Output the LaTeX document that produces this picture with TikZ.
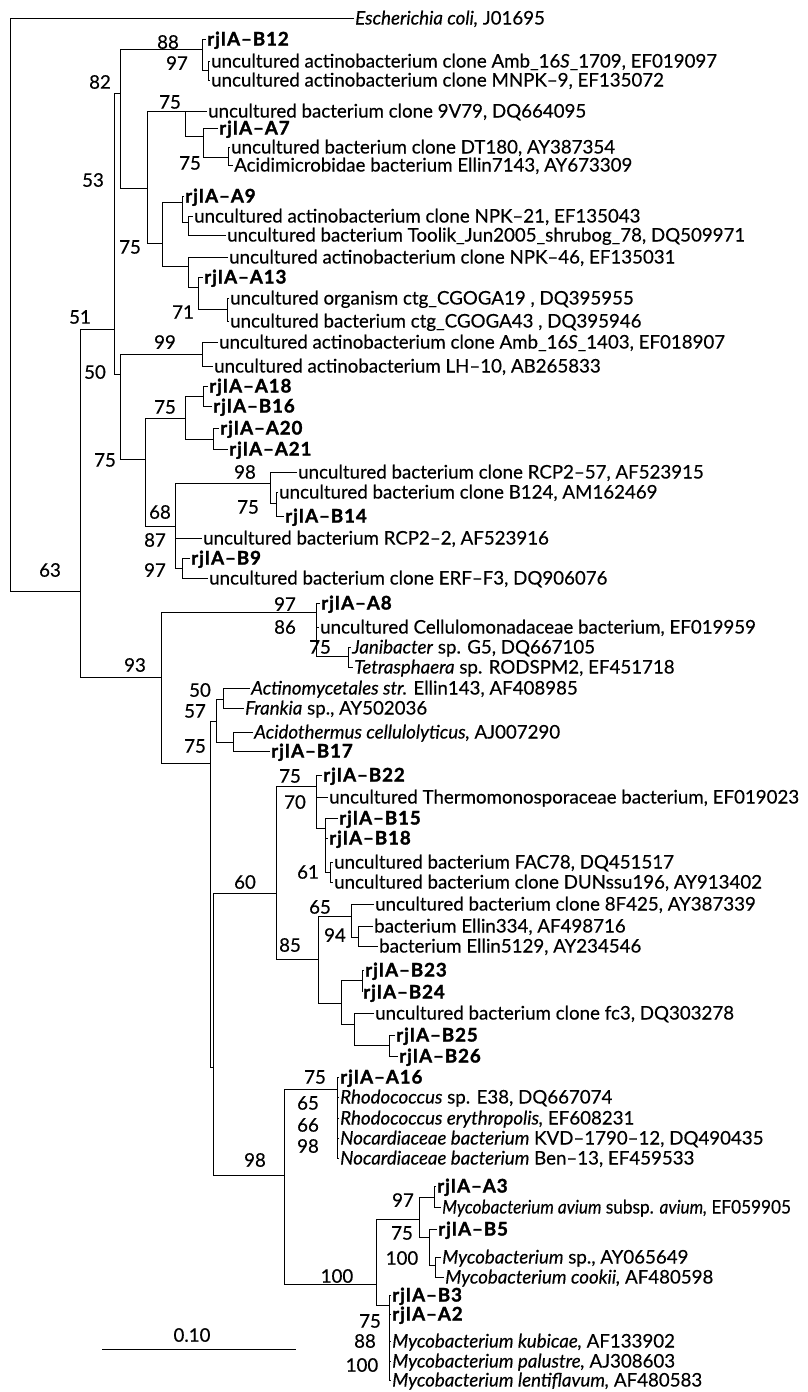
\documentclass[tikz,border=0pt]{standalone}
\usepackage{fontspec}
\setmainfont{Lato}[FakeBold=0.4]
\newfontfamily\rjfont{Lato}[FakeBold=1.6,LetterSpace=5]
\newcommand{\tsz}{\fontsize{18.7}{21}\selectfont}

\begin{document}
\begin{tikzpicture}[x=1pt,y=-1pt,
  br/.style={line width=0.9pt},
  lf/.style={anchor=west,inner sep=1pt,text height=13pt,text depth=0pt,font=\tsz},
  rj/.style={lf,font=\tsz\rjfont\bfseries},
  bs/.style={inner sep=0pt,font=\tsz}]
  \useasboundingbox (0,0) rectangle (808,1392);

  % outgroup
  \node[lf] (ecoli) at (354,18) {\textit{Escherichia coli,} J01695};

  % upper clade, leaves
  \node[rj] (b12) at (206,39) {rjIA\textendash B12};
  \node[lf] (amb1709) at (210,61) {uncultured actinobacterium clone Amb\_16\textit{S}\_1709, EF019097};
  \node[lf] (mnpk9) at (210,80) {uncultured actinobacterium clone MNPK\textendash 9, EF135072};
  \node[lf] (v79) at (207,111) {uncultured bacterium clone 9V79, DQ664095};
  \node[rj] (a7) at (218,128) {rjIA\textendash A7};
  \node[lf] (dt180) at (230,147) {uncultured bacterium clone DT180, AY387354};
  \node[lf] (e7143) at (233,165) {Acidimicrobidae bacterium Ellin7143, AY673309};
  \node[rj] (a9) at (184,196) {rjIA\textendash A9};
  \node[lf] (npk21) at (193,216) {uncultured actinobacterium clone NPK\textendash 21, EF135043};
  \node[lf] (toolik) at (226,235) {uncultured bacterium Toolik\_Jun2005\_shrubog\_78, DQ509971};
  \node[lf] (npk46) at (228,257) {uncultured actinobacterium clone NPK\textendash 46, EF135031};
  \node[rj] (a13) at (203,277) {rjIA\textendash A13};
  \node[lf] (cg19) at (229,298) {uncultured organism ctg\_CGOGA19 , DQ395955};
  \node[lf] (cg43) at (229,321) {uncultured bacterium ctg\_CGOGA43 , DQ395946};
  \node[lf] (amb1403) at (218,342) {uncultured actinobacterium clone Amb\_16\textit{S}\_1403, EF018907};
  \node[lf] (lh10) at (213,366) {uncultured actinobacterium LH\textendash 10, AB265833};
  \node[rj] (a18) at (208,386) {rjIA\textendash A18};
  \node[rj] (b16) at (212,406) {rjIA\textendash B16};
  \node[rj] (a20) at (219,428) {rjIA\textendash A20};
  \node[rj] (a21) at (228,449) {rjIA\textendash A21};
  \node[lf] (rcp57) at (297,472) {uncultured bacterium clone RCP2\textendash 57, AF523915};
  \node[lf] (b124) at (278,492) {uncultured bacterium clone B124, AM162469};
  \node[rj] (b14) at (284,516) {rjIA\textendash B14};
  \node[lf] (rcp2) at (202,538) {uncultured bacterium RCP2\textendash 2, AF523916};
  \node[rj] (b9) at (190,558) {rjIA\textendash B9};
  \node[lf] (erf) at (208,578) {uncultured bacterium clone ERF\textendash F3, DQ906076};

  % lower clade, leaves
  \node[rj] (a8) at (320,603) {rjIA\textendash A8};
  \node[lf] (cellu) at (319,627) {uncultured Cellulomonadaceae bacterium, EF019959};
  \node[lf] (jani) at (351,647) {\textit{Janibacter} sp. G5, DQ667105};
  \node[lf] (tetra) at (353,667) {\textit{Tetrasphaera} sp. RODSPM2, EF451718};
  \node[lf] (actino) at (250,688) {\textit{Actinomycetales str.} Ellin143, AF408985};
  \node[lf] (frankia) at (244,708) {\textit{Frankia} sp., AY502036};
  \node[lf] (acido) at (253,732) {\textit{Acidothermus cellulolyticus,} AJ007290};
  \node[rj] (b17) at (270,751) {rjIA\textendash B17};
  \node[rj] (b22) at (322,775) {rjIA\textendash B22};
  \node[lf] (thermo) at (328,797) {uncultured Thermomonosporaceae bacterium, EF019023};
  \node[rj] (b15) at (338,818) {rjIA\textendash B15};
  \node[rj] (b18) at (328,838) {rjIA\textendash B18};
  \node[lf] (fac78) at (333,862) {uncultured bacterium FAC78, DQ451517};
  \node[lf] (dun) at (333,882) {uncultured bacterium clone DUNssu196, AY913402};
  \node[lf] (f425) at (374,904) {uncultured bacterium clone 8F425, AY387339};
  \node[lf] (e334) at (373,926) {bacterium Ellin334, AF498716};
  \node[lf] (e5129) at (378,946) {bacterium Ellin5129, AY234546};
  \node[rj] (b23) at (364,970) {rjIA\textendash B23};
  \node[rj] (b24) at (362,992) {rjIA\textendash B24};
  \node[lf] (fc3) at (374,1013) {uncultured bacterium clone fc3, DQ303278};
  \node[rj] (b25) at (395,1035) {rjIA\textendash B25};
  \node[rj] (b26) at (398,1056) {rjIA\textendash B26};
  \node[rj] (a16) at (339,1077) {rjIA\textendash A16};
  \node[lf] (e38) at (339,1097) {\textit{Rhodococcus} sp. E38, DQ667074};
  \node[lf] (eryth) at (339,1118) {\textit{Rhodococcus erythropolis,} EF608231};
  \node[lf] (kvd) at (339,1138) {\textit{Nocardiaceae bacterium} KVD\textendash 1790\textendash 12, DQ490435};
  \node[lf] (ben13) at (339,1158) {\textit{Nocardiaceae bacterium} Ben\textendash 13, EF459533};
  \node[rj] (a3) at (436,1186) {rjIA\textendash A3};
  \node[lf] (avium) at (441,1207) {\scalebox{0.92}[1]{\textit{Mycobacterium avium} subsp. \textit{avium,} EF059905}};
  \node[rj] (b5) at (437,1229) {rjIA\textendash B5};
  \node[lf] (mycsp) at (441,1257) {\textit{Mycobacterium} sp., AY065649};
  \node[lf] (cookii) at (444,1277) {\textit{Mycobacterium cookii,} AF480598};
  \node[rj] (b3) at (391,1295) {rjIA\textendash B3};
  \node[rj] (a2) at (391,1314) {rjIA\textendash A2};
  \node[lf] (kubi) at (391,1341) {\textit{Mycobacterium kubicae,} AF133902};
  \node[lf] (palu) at (391,1361) {\textit{Mycobacterium palustre,} AJ308603};
  \node[lf] (lenti) at (391,1380) {\textit{Mycobacterium lentiflavum,} AF480583};

  % inner nodes
  \coordinate (r) at (10,591);
  \coordinate (n63) at (80,591);
  \coordinate (n51) at (114,329);
  \coordinate (n82) at (120,93);
  \coordinate (n88) at (202,49);
  \coordinate (n97a) at (208,70);
  \coordinate (n53) at (147,188);
  \coordinate (n75a) at (185,111);
  \coordinate (nA7) at (203,136);
  \coordinate (n75c) at (228,157);
  \coordinate (n75b) at (162,243);
  \coordinate (nA9) at (182,202);
  \coordinate (nNPK) at (188,222);
  \coordinate (nA13p) at (188,266);
  \coordinate (n71p) at (198,287);
  \coordinate (n71) at (227,309);
  \coordinate (n50) at (120,374);
  \coordinate (n99) at (202,354);
  \coordinate (n75d) at (145,459);
  \coordinate (n75e) at (185,418);
  \coordinate (nA18) at (203,396);
  \coordinate (nA20) at (213,439);
  \coordinate (n68) at (175,526);
  \coordinate (n98a) at (270,483);
  \coordinate (nB124) at (276,503);
  \coordinate (n97b) at (182,568);
  \coordinate (n93) at (161,677);
  \coordinate (n97c) at (316,612);
  \coordinate (n75g) at (348,656);
  \coordinate (n75f) at (210,763);
  \coordinate (n57) at (216,721);
  \coordinate (n50b) at (223,699);
  \coordinate (nAcido) at (233,742);
  \coordinate (n60p) at (213,1067);
  \coordinate (n60) at (276,893);
  \coordinate (n70) at (316,786);
  \coordinate (nB15) at (325,828);
  \coordinate (n61) at (330,872);
  \coordinate (n85) at (318,959);
  \coordinate (n65) at (351,916);
  \coordinate (n94) at (358,937);
  \coordinate (nB23p) at (341,1003);
  \coordinate (nB23) at (362,980);
  \coordinate (nfc3) at (354,1024);
  \coordinate (nB25) at (389,1045);
  \coordinate (n98b) at (284,1175);
  \coordinate (nA16) at (337,1089);
  \coordinate (n100) at (376,1284);
  \coordinate (n97d) at (419,1219);
  \coordinate (nA3) at (434,1197);
  \coordinate (nB5) at (429,1237);
  \coordinate (nsp) at (435,1265);
  \coordinate (nB3) at (389,1305);

  % branches, upper clade
  \draw[br] (ecoli.west) -- (r |- ecoli.west) -- (r) -- (n63);
  \draw[br] (n51) -- (n63 |- n51) -- (n63 |- n93) -- (n93);
  \draw[br] (n82) -- (n51 |- n82) -- (n51 |- n50) -- (n50);
  \draw[br] (n88) -- (n82 |- n88) -- (n82 |- n53) -- (n53);
  \draw[br] (b12.west) -- (n88 |- b12.west) -- (n88 |- n97a) -- (n97a);
  \draw[br] (amb1709.west) -- (n97a |- amb1709.west) -- (n97a |- mnpk9.west) -- (mnpk9.west);
  \draw[br] (n75a) -- (n53 |- n75a) -- (n53 |- n75b) -- (n75b);
  \draw[br] (v79.west) -- (n75a |- v79.west) -- (n75a |- nA7) -- (nA7);
  \draw[br] (a7.west) -- (nA7 |- a7.west) -- (nA7 |- n75c) -- (n75c);
  \draw[br] (dt180.west) -- (n75c |- dt180.west) -- (n75c |- e7143.west) -- (e7143.west);
  \draw[br] (nA9) -- (n75b |- nA9) -- (n75b |- nA13p) -- (nA13p);
  \draw[br] (a9.west) -- (nA9 |- a9.west) -- (nA9 |- nNPK) -- (nNPK);
  \draw[br] (npk21.west) -- (nNPK |- npk21.west) -- (nNPK |- toolik.west) -- (toolik.west);
  \draw[br] (npk46.west) -- (nA13p |- npk46.west) -- (nA13p |- n71p) -- (n71p);
  \draw[br] (a13.west) -- (n71p |- a13.west) -- (n71p |- n71) -- (n71);
  \draw[br] (cg19.west) -- (n71 |- cg19.west) -- (n71 |- cg43.west) -- (cg43.west);
  \draw[br] (n99) -- (n50 |- n99) -- (n50 |- n75d) -- (n75d);
  \draw[br] (amb1403.west) -- (n99 |- amb1403.west) -- (n99 |- lh10.west) -- (lh10.west);
  \draw[br] (n75e) -- (n75d |- n75e) -- (n75d |- n68) -- (n68);
  \draw[br] (nA18) -- (n75e |- nA18) -- (n75e |- nA20) -- (nA20);
  \draw[br] (a18.west) -- (nA18 |- a18.west) -- (nA18 |- b16.west) -- (b16.west);
  \draw[br] (a20.west) -- (nA20 |- a20.west) -- (nA20 |- a21.west) -- (a21.west);
  \draw[br] (n98a) -- (n68 |- n98a) -- (n68 |- n97b) -- (n97b) (n68 |- rcp2.west) -- (rcp2.west);
  \draw[br] (rcp57.west) -- (n98a |- rcp57.west) -- (n98a |- nB124) -- (nB124);
  \draw[br] (b124.west) -- (nB124 |- b124.west) -- (nB124 |- b14.west) -- (b14.west);
  \draw[br] (b9.west) -- (n97b |- b9.west) -- (n97b |- erf.west) -- (erf.west);

  % branches, lower clade
  \draw[br] (n97c) -- (n93 |- n97c) -- (n93 |- n75f) -- (n75f);
  \draw[br] (a8.west) -- (n97c |- a8.west) -- (n97c |- n75g) -- (n75g) (n97c |- cellu.west) -- (cellu.west);
  \draw[br] (jani.west) -- (n75g |- jani.west) -- (n75g |- tetra.west) -- (tetra.west);
  \draw[br] (n57) -- (n75f |- n57) -- (n75f |- n60p) -- (n60p);
  \draw[br] (n50b) -- (n57 |- n50b) -- (n57 |- nAcido) -- (nAcido);
  \draw[br] (actino.west) -- (n50b |- actino.west) -- (n50b |- frankia.west) -- (frankia.west);
  \draw[br] (acido.west) -- (nAcido |- acido.west) -- (nAcido |- b17.west) -- (b17.west);
  \draw[br] (n60) -- (n60p |- n60) -- (n60p |- n98b) -- (n98b);
  \draw[br] (n70) -- (n60 |- n70) -- (n60 |- n85) -- (n85);
  \draw[br] (b22.west) -- (n70 |- b22.west) -- (n70 |- nB15) -- (nB15) (n70 |- thermo.west) -- (thermo.west);
  \draw[br] (b15.west) -- (nB15 |- b15.west) -- (nB15 |- n61) -- (n61) (nB15 |- b18.west) -- (b18.west);
  \draw[br] (fac78.west) -- (n61 |- fac78.west) -- (n61 |- dun.west) -- (dun.west);
  \draw[br] (n65) -- (n85 |- n65) -- (n85 |- nB23p) -- (nB23p);
  \draw[br] (f425.west) -- (n65 |- f425.west) -- (n65 |- n94) -- (n94);
  \draw[br] (e334.west) -- (n94 |- e334.west) -- (n94 |- e5129.west) -- (e5129.west);
  \draw[br] (nB23) -- (nB23p |- nB23) -- (nB23p |- nfc3) -- (nfc3);
  \draw[br] (b23.west) -- (nB23 |- b23.west) -- (nB23 |- b24.west) -- (b24.west);
  \draw[br] (fc3.west) -- (nfc3 |- fc3.west) -- (nfc3 |- nB25) -- (nB25);
  \draw[br] (b25.west) -- (nB25 |- b25.west) -- (nB25 |- b26.west) -- (b26.west);
  \draw[br] (nA16) -- (n98b |- nA16) -- (n98b |- n100) -- (n100);
  \draw[br] (a16.west) -- (nA16 |- a16.west) -- (nA16 |- ben13.west) -- (ben13.west);
  \foreach \l in {e38,eryth,kvd} \draw[br] (nA16 |- \l.west) -- (\l.west);
  \draw[br] (n97d) -- (n100 |- n97d) -- (n100 |- nB3) -- (nB3);
  \draw[br] (nA3) -- (n97d |- nA3) -- (n97d |- nB5) -- (nB5);
  \draw[br] (a3.west) -- (nA3 |- a3.west) -- (nA3 |- avium.west) -- (avium.west);
  \draw[br] (b5.west) -- (nB5 |- b5.west) -- (nB5 |- nsp) -- (nsp);
  \draw[br] (mycsp.west) -- (nsp |- mycsp.west) -- (nsp |- cookii.west) -- (cookii.west);
  \draw[br] (b3.west) -- (nB3 |- b3.west) -- (nB3 |- lenti.west) -- (lenti.west);
  \foreach \l in {a2,kubi,palu} \draw[br] (nB3 |- \l.west) -- (\l.west);

  % bootstrap values
  \foreach \v/\p [count=\i] in {88/{168,42},97/{177,63},82/{100,82},75/{170,102},53/{93,180},
      75/{190,163},75/{130,247},71/{183,312},51/{80,317},99/{165,342},50/{95,372},75/{165,407},
      75/{105,460},98/{245,472},75/{248,507},68/{160,512},87/{155,540},97/{155,570},63/{50,570},
      97/{285,604},86/{285,627},75/{320,647},93/{135,665},50/{200,690},57/{195,711},75/{195,746},
      75/{290,776},70/{295,802},61/{308,872},60/{245,882},65/{320,907},94/{335,935},85/{290,945},
      75/{315,1077},65/{308,1103},66/{308,1125},98/{308,1146},98/{255,1160},97/{403,1200},
      75/{402,1233},100/{402,1258},100/{337,1276},75/{370,1321},88/{365,1341},100/{362,1365}}
    \node[bs] (bs\i) at (\p) {\v};

  % scale bar
  \node[bs] (sclab) at (192,1335) {0.10};
  \coordinate (sb0) at (102,1349);
  \coordinate (sb1) at (296,1349);
  \draw[br] (sb0) -- (sb1);
\end{tikzpicture}
\end{document}
